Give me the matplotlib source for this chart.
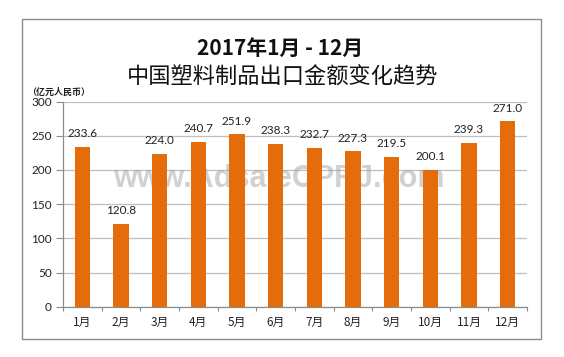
import matplotlib
matplotlib.use("Agg")
import matplotlib.pyplot as plt
from matplotlib.patches import Rectangle

plt.rcParams['font.family'] = ['Noto Sans CJK SC', 'DejaVu Sans']

months = ["1月", "2月", "3月", "4月", "5月", "6月", "7月", "8月", "9月", "10月", "11月", "12月"]
values = [233.6, 120.8, 224.0, 240.7, 251.9, 238.3, 232.7, 227.3, 219.5, 200.1, 239.3, 271.0]
yticks = [0, 50, 100, 150, 200, 250, 300]

title1 = "2017年1月 - 12月"
title2 = "中国塑料制品出口金额变化趋势"
unit = "（亿元人民币）"
watermark = "www.AdsaleCPRJ.com"

W, H = 564, 357
fig = plt.figure(figsize=(W / 100, H / 100), dpi=100)
fig.patch.set_facecolor("white")

# outer frame
fig.patches.append(Rectangle((22 / W, 1 - 339 / H), (541 - 22) / W, (339 - 18.5) / H,
                             transform=fig.transFigure, fill=False,
                             edgecolor="#8c8c8c", linewidth=1.0))

ax_bottom, ax_top = 306.7, 101.6
ax = fig.add_axes([63 / W, 1 - ax_bottom / H, (527 - 63) / W, (ax_bottom - ax_top) / H])
x = list(range(len(months)))
ax.bar(x, values, width=0.4, color="#E46C0A", zorder=3)
ax.set_xlim(-0.5, len(months) - 0.5)
ax.set_ylim(0, 300)
ax.set_yticks(yticks)
ax.set_yticklabels([str(v) for v in yticks], fontsize=8.5, color="#222222",
                   family=["Lato", "DejaVu Sans"])
ax.yaxis.grid(True, color="#bfbfbf", linewidth=0.9, zorder=0)
ax.set_axisbelow(True)

ax.set_xticks(x)
ax.set_xticklabels(months, fontsize=8.5, color="#222222")
ax.tick_params(axis="x", length=0, pad=7)
ax.set_xticks([i - 0.5 for i in range(len(months) + 1)], minor=True)
ax.tick_params(axis="x", which="minor", length=3, color="#8c8c8c", width=0.8)
ax.tick_params(axis="y", length=5, color="#8c8c8c", width=0.8, pad=3)

for s in ["top", "right"]:
    ax.spines[s].set_visible(False)
for s in ["left", "bottom"]:
    ax.spines[s].set_color("#8c8c8c")
    ax.spines[s].set_linewidth(0.9)

for xi, v in zip(x, values):
    ax.annotate(f"{v:.1f}", (xi, v), xytext=(0, 7), textcoords="offset points",
                ha="center", va="baseline", fontsize=8.5, color="#222222",
                family=["Lato", "DejaVu Sans"])

fig.text(280 / W, 1 - 48.5 / H, title1, ha="center", va="center", fontsize=15,
         fontweight="bold", color="#111111")
fig.text(283 / W, 1 - 77 / H, title2, ha="center", va="center", fontsize=16,
         color="#111111")
fig.text(27 / W, 1 - 92 / H, unit, ha="left", va="center", fontsize=6.5,
         fontweight="bold", color="#222222")

ax.text((278.5 - 63) / 464, (ax_bottom - 179) / (ax_bottom - ax_top), watermark,
        transform=ax.transAxes, ha="center", va="center", fontsize=22,
        fontweight="bold", color="#9a9a9a", alpha=0.45,
        family=["Liberation Sans", "DejaVu Sans"], zorder=1)

fig.savefig("out.png", dpi=100)
